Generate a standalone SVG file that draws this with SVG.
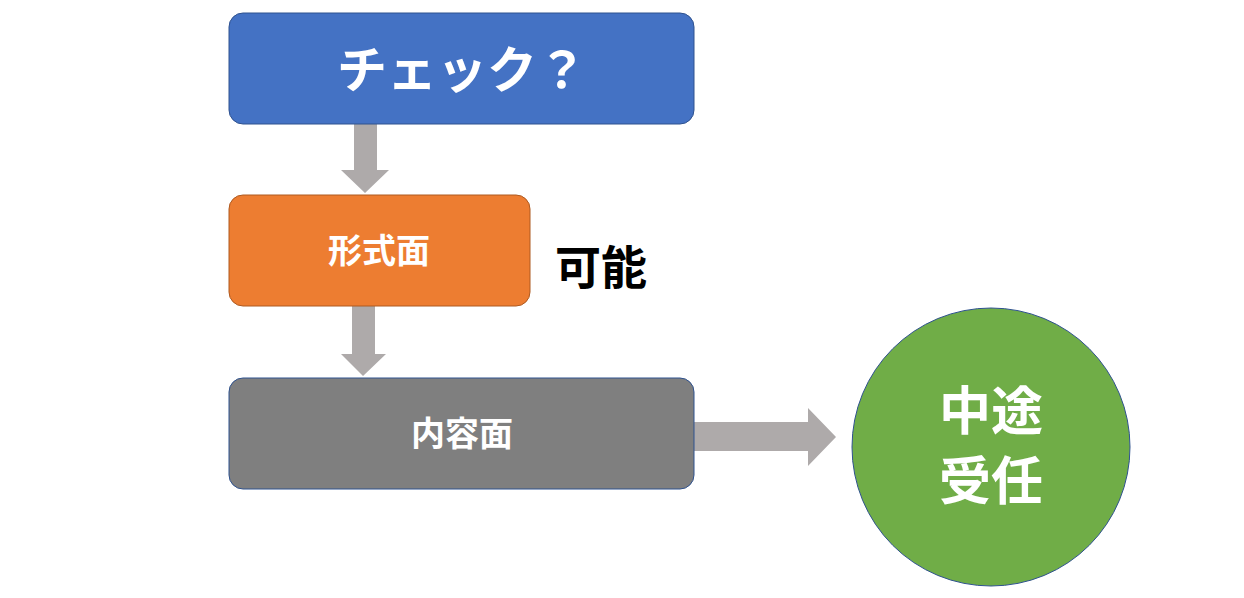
<svg xmlns="http://www.w3.org/2000/svg" width="1244" height="598" viewBox="0 0 1244 598">
<style>
.t{font-family:"Noto Sans CJK JP","Noto Sans",sans-serif;font-weight:bold;fill:#fff;text-anchor:middle}
.a{fill:#AEAAAA}
</style>
<rect width="1244" height="598" fill="#fff"/>
<g id="connectors">
<path class="a" d="M354,124H377V170H389L365,193L341,170H354Z"/>
<path class="a" d="M352,306H375V354H386L363,376L341,354H352Z"/>
<path class="a" d="M694,422H808V408L836,437L808,466V451H694Z"/>
</g>
<g id="check"><rect x="229" y="13" width="465" height="111" rx="14" fill="#4472C4" stroke="#2F528F"/><text class="t" x="462" y="88" font-size="50">チェック？</text></g>
<g id="keishiki"><rect x="229" y="195" width="301" height="111" rx="14" fill="#ED7D31" stroke="#AE5A21"/><text class="t" x="379" y="263" font-size="34">形式面</text></g>
<g id="kanou"><text x="555" y="284" font-family="Noto Sans CJK JP,sans-serif" font-weight="bold" font-size="46" fill="#000">可能</text></g>
<g id="naiyou"><rect x="229" y="378" width="465" height="111" rx="14" fill="#7F7F7F" stroke="#2F528F"/><text class="t" x="462" y="446" font-size="34">内容面</text></g>
<g id="chuto"><circle cx="991" cy="447" r="139" fill="#70AD47" stroke="#2F528F"/><text class="t" x="991" y="430" font-size="52">中途</text><text class="t" x="991" y="500" font-size="52">受任</text></g>
</svg>
